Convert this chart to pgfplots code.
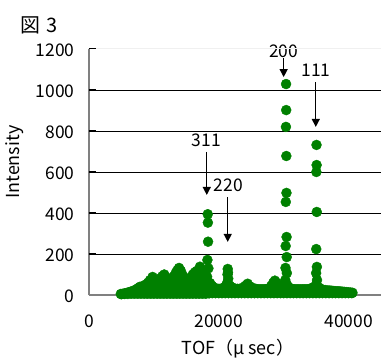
\documentclass[border=0pt]{standalone}
\usepackage{fontspec}
\setmainfont{Noto Sans CJK JP}
\usepackage{pgfplots}
\pgfplotsset{compat=1.18}
\usetikzlibrary{arrows.meta}
\definecolor{tofgreen}{RGB}{0,128,0}
\definecolor{axgray}{RGB}{128,128,128}
\begin{document}
\begin{tikzpicture}
\useasboundingbox (-89bp,-63bp) rectangle (292bp,295bp);
\begin{axis}[
  at={(0,0)}, anchor=south west,
  scale only axis, width=292bp, height=246bp,
  xmin=0, xmax=45000, ymin=0, ymax=1200,
  axis x line*=bottom, axis y line*=left,
  axis line style={draw=axgray, line width=1.5bp},
  xtick={0,20000,40000}, scaled x ticks=false,
  ytick={0,1200}, ytick pos=left,
  extra y ticks={200,400,600,800,1000},
  extra y tick style={grid=major},
  major grid style={black, line width=0.8bp},
  tick align=inside, major tick length=7bp,
  x tick style={draw=none}, y tick style={black, line width=1bp},
  /pgf/number format/assume math mode=true,
  /pgf/number format/1000 sep={},
  tick label style={font=\fontsize{17.5}{20}\selectfont},
  yticklabel style={xshift=-11bp, yshift=-1.5bp},
  xticklabel style={yshift=-16bp},
  xlabel={TOF（μ sec）},
  xlabel style={font=\fontsize{18}{22}\selectfont, at={(axis description cs:0.51,-0.217)}, anchor=center},
  ylabel={Intensity},
  ylabel style={font=\fontsize{18}{22}\selectfont, at={(axis description cs:-0.253,0.54)}, anchor=center},
  clip=false,
  dots/.style={only marks, mark=*, mark size=5bp, color=tofgreen},
]
% top envelope of background
\addplot[dots] coordinates {
(4900,5) (5200,6) (5500,8) (5800,10) (6100,13) (6400,16) (6700,19) (7000,22)
(7300,28) (7600,34) (7850,40) (8200,42) (8500,45) (8800,52) (9100,60) (9400,72)
(9800,88) (10100,76) (10400,64) (10700,68) (11000,80) (11300,92) (11600,100) (11900,86)
(12200,74) (12500,68) (12800,76) (13100,92) (13400,110) (13650,122) (13880,132) (14150,118)
(14450,96) (14750,78) (15070,68) (15400,74) (15700,86) (16000,100) (16300,110) (16600,117)
(16850,104) (17100,138) (17400,118) (17700,92) (18000,75) (18650,58) (18950,45) (19300,36)
(19600,30) (19900,30) (20200,30) (20500,32) (20800,35) (21100,45) (21700,45) (22000,38)
(22300,32) (22600,30) (22900,30) (23200,30) (23500,32) (23800,36) (24100,45) (24450,55)
(24800,42) (25100,35) (25400,32) (25700,30) (26000,28) (26300,28) (26600,28) (26900,28)
(27200,28) (27500,30) (27800,34) (28100,45) (28400,60) (28650,70) (28900,60) (29200,48)
(29500,42) (29800,40) (30000,45) (30700,40) (31000,32) (31300,30) (31600,28) (31900,28)
(32200,28) (32500,28) (32800,28) (33100,28) (33400,28) (33700,28) (34000,30) (34300,32)
(34600,38) (35500,35) (35800,28) (36100,25) (36400,24) (36700,22) (37000,22) (37300,21)
(37600,20) (37900,19) (38200,18) (38500,18) (38800,17) (39100,16) (39400,15) (39700,14)
(40000,13) (40300,12) (40600,11)
};
% lower rows of background
\addplot[dots] coordinates {
(5000,4) (5500,5) (6000,5) (6500,6) (7000,6) (7500,6) (8000,6) (8500,6) (9000,6) (9500,6)
(10000,6) (10500,6) (11000,6) (11500,6) (12000,6) (12500,6) (13000,6) (13500,6) (14000,6)
(14500,6) (15000,6) (15500,6) (16000,6) (16500,6) (17000,6) (17500,6) (18000,6) (18500,8)
(19000,9) (19500,9) (20000,9) (20500,9) (21000,9) (21500,9) (22000,9) (22500,9) (23000,9)
(23500,9) (24000,9) (24500,9) (25000,9) (25500,9) (26000,9) (26500,9) (27000,9) (27500,9)
(28000,9) (28500,9) (29000,9) (29500,9) (30000,9) (30500,9) (31000,9) (31500,9) (32000,9)
(32500,9) (33000,9) (33500,9) (34000,9) (34500,9) (35000,9) (35500,9) (36000,9) (36500,9)
(37000,9) (37500,9) (38000,9) (38500,9) (39000,9) (39500,9) (40000,9) (40500,9)
};
\addplot[dots] coordinates {
(7200,22) (7700,22) (8200,22) (8700,22) (9200,22) (9700,22) (10200,22) (10700,22) (11200,22)
(11700,22) (12200,22) (12700,22) (13200,22) (13700,22) (14200,22) (14700,22) (15200,22)
(15700,22) (16200,22) (16700,22) (17200,22) (17700,22) (18200,22) (18700,22) (19200,20)
(19700,20) (20200,20) (20700,20) (21200,20) (21700,20) (22200,20) (22700,20) (23200,20)
(23700,20) (24200,20) (24700,20) (25200,20) (25700,20) (26200,20) (26700,20) (27200,20)
(27700,20) (28200,20) (28700,20) (29200,20) (29700,20) (30200,20) (30700,20) (31200,20)
(31700,20) (32200,20) (32700,20) (33200,20) (33700,20) (34200,20) (34700,20) (35200,20)
(35700,20) (36200,16)
};
\addplot[dots] coordinates {
(8300,42) (8800,42) (9300,42) (9800,42) (10300,42) (10800,42) (11300,42) (11800,42) (12300,42)
(12800,42) (13300,42) (13800,42) (14300,42) (14800,42) (15300,42) (15800,42) (16300,42)
(16800,42) (17300,42) (17800,42) (21100,38) (21700,38) (24200,40) (24600,40) (28200,40)
(28700,45) (29200,40) (29700,38) (34600,35) (35400,32)
};
\addplot[dots] coordinates {
(9400,62) (9900,62) (10400,62) (10900,62) (11400,62) (11900,62) (12400,62) (12900,62)
(13400,62) (13900,62) (14400,62) (14900,62) (15400,62) (15900,62) (16400,62) (16900,62)
(17400,62) (17900,62) (28600,55)
};
\addplot[dots] coordinates {
(9800,82) (11100,82) (11500,82) (11900,82) (13000,82) (13400,82) (13800,82) (14200,82)
(14600,82) (15700,82) (16100,82) (16500,82) (16900,82) (17300,82) (17600,82)
(13500,102) (13900,102) (14200,102) (16300,102) (16700,102) (17100,102) (17400,102)
(13800,120) (17150,120)
};
% 311 peak
\addplot[dots] coordinates {
(18150,50) (18200,89) (18250,171) (18300,394) (18320,353) (18350,260) (18400,130) (18450,60) (18500,30)
};
% 220 peak
\addplot[dots] coordinates {
(21300,60) (21350,100) (21380,127) (21420,110) (21460,80) (21500,50)
};
% 200 peak
\addplot[dots] coordinates {
(30250,73) (30280,132) (30310,239) (30330,454) (30350,820) (30370,1029) (30390,902)
(30410,678) (30430,498) (30450,283) (30470,185) (30490,107) (30510,50)
};
% 111 peak
\addplot[dots] coordinates {
(34980,50) (35000,107) (35020,224) (35040,600) (35060,732) (35080,634) (35100,405)
(35120,137) (35140,73) (35160,45)
};
% annotations
\begin{scope}[font=\fontsize{17.5}{20}\selectfont]
\node at (axis cs:30000,1188) {200};
\node at (axis cs:34990,1098) {111};
\node at (axis cs:18070,756) {311};
\node at (axis cs:21455,537) {220};
\end{scope}
\begin{scope}[line width=1.3bp, -{Triangle[length=8bp,width=8bp]}]
\draw (axis cs:30000,1156) -- (axis cs:30000,1063);
\draw (axis cs:34950,1039) -- (axis cs:34950,820);
\draw (axis cs:18150,698) -- (axis cs:18150,488);
\draw (axis cs:21380,478) -- (axis cs:21380,259);
\end{scope}
\draw[black!6, line width=1bp] (axis cs:1100,1200) -- (axis cs:45000,1200);
\end{axis}
\node[font=\fontsize{20}{24}\selectfont] at (-50bp,270bp) {図\hspace{6bp}3};
\end{tikzpicture}
\end{document}
